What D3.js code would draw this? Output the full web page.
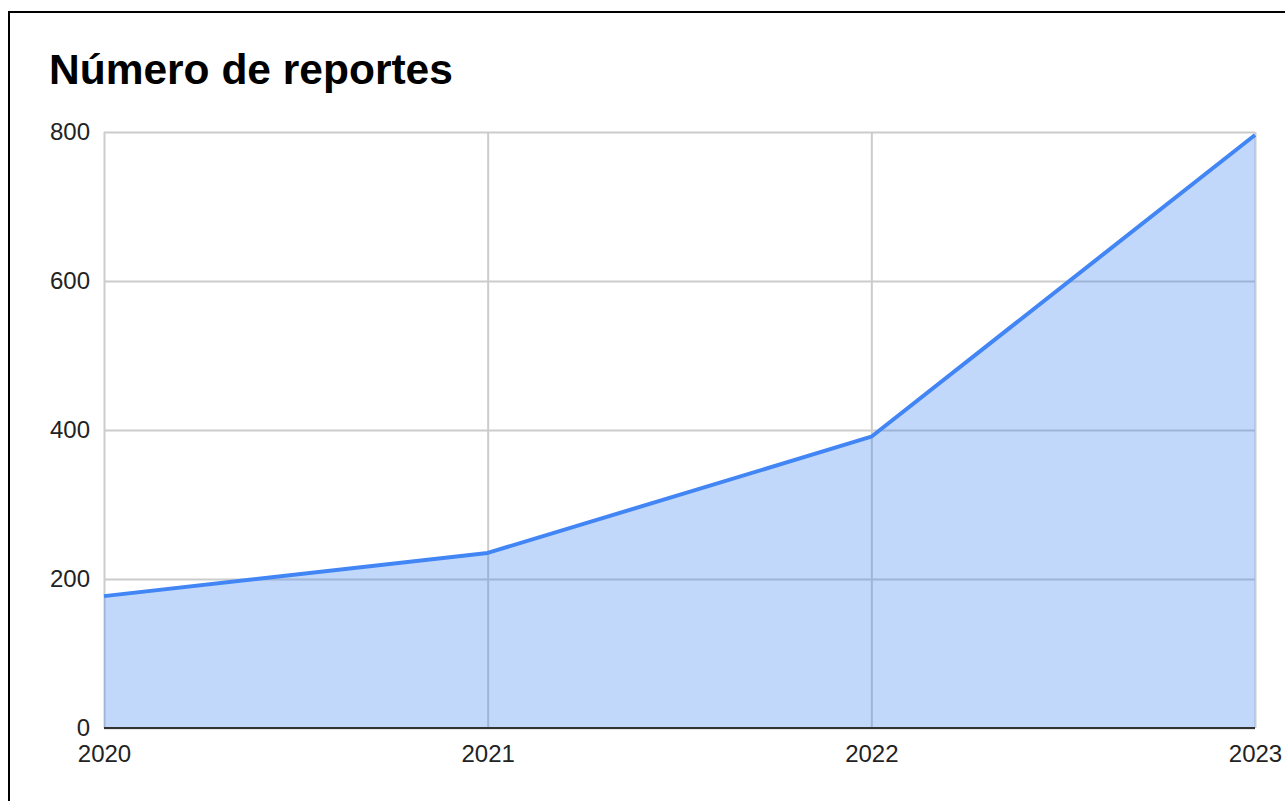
<!DOCTYPE html>
<html>
<head>
<meta charset="utf-8">
<script src="https://cdn.jsdelivr.net/npm/d3@7"></script>
<style>
  html, body { margin: 0; padding: 0; background: #fff; }
  svg { display: block; }
</style>
</head>
<body>
<svg id="chart" width="1285" height="801"></svg>
<script>
// Reports per year
const years = ["2020", "2021", "2022", "2023"];
const reports = [177, 235, 391, 796];
const yTicks = [0, 200, 400, 600, 800];
const titleText = "Número de reportes";

const svg = d3.select("#chart");
const W = 1285, H = 801;
const margin = { left: 104, right: 30, top: 132, bottom: 73 };

// Outer frame
svg.append("rect")
  .attr("x", 9).attr("y", 12)
  .attr("width", 1400).attr("height", 1000)
  .attr("fill", "#fff")
  .attr("stroke", "#000")
  .attr("stroke-width", 2);

const x = d3.scalePoint()
  .domain(years)
  .range([margin.left, W - margin.right]);

const y = d3.scaleLinear()
  .domain([0, 800])
  .range([H - margin.bottom, margin.top]);

const font = "'Liberation Sans', Arial, sans-serif";

// Title
svg.append("text")
  .attr("x", 49).attr("y", 84)
  .attr("font-family", font)
  .attr("font-weight", "bold")
  .attr("font-size", 42.5)
  .attr("fill", "#000")
  .text(titleText);

// Horizontal gridlines + y labels
const yAxis = d3.axisLeft(y).tickValues(yTicks)
  .tickSize(-(x.range()[1] - x.range()[0]))
  .tickPadding(14)
  .tickFormat(d3.format("d"));
const gy = svg.append("g")
  .attr("transform", `translate(${margin.left},0)`)
  .call(yAxis);
gy.select(".domain").remove();
gy.selectAll(".tick line").attr("stroke", "#cccccc").attr("stroke-width", 2);
gy.selectAll(".tick text")
  .attr("font-family", font).attr("font-size", 24).attr("fill", "#222");

// Vertical gridlines + x labels
const xAxis = d3.axisBottom(x)
  .tickSize(-(y.range()[0] - y.range()[1]))
  .tickPadding(17);
const gx = svg.append("g")
  .attr("transform", `translate(0,${y(0)})`)
  .call(xAxis);
gx.select(".domain").remove();
gx.selectAll(".tick line").attr("stroke", "#cccccc").attr("stroke-width", 2);
gx.selectAll(".tick text")
  .attr("font-family", font).attr("font-size", 24).attr("fill", "#222");

const pts = years.map((yr, i) => ({ yr, v: reports[i] }));

// Filled area
const area = d3.area()
  .x(d => x(d.yr))
  .y0(y(0))
  .y1(d => y(d.v));
svg.append("path")
  .datum(pts)
  .attr("d", area)
  .attr("fill", "#4285f4")
  .attr("fill-opacity", 0.32);

// Baseline
svg.append("line")
  .attr("x1", x.range()[0]).attr("x2", x.range()[1])
  .attr("y1", y(0)).attr("y2", y(0))
  .attr("stroke", "#333").attr("stroke-width", 2);

// Series line
const line = d3.line()
  .x(d => x(d.yr))
  .y(d => y(d.v));
svg.append("path")
  .datum(pts)
  .attr("d", line)
  .attr("fill", "none")
  .attr("stroke", "#4285f4")
  .attr("stroke-width", 4)
  .attr("stroke-linejoin", "round");
</script>
</body>
</html>
